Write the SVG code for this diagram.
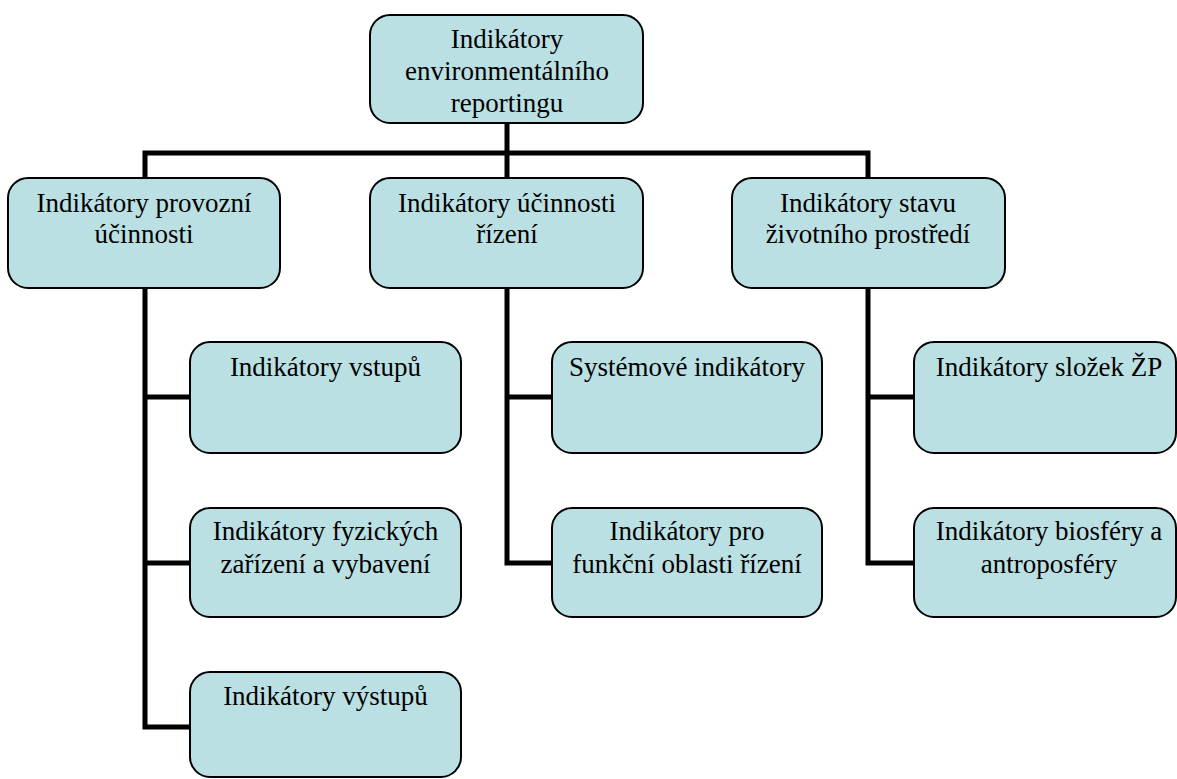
<svg xmlns="http://www.w3.org/2000/svg" width="1177" height="779" viewBox="0 0 1177 779">
<rect width="1177" height="779" fill="#fff"/>
<g id="connectors" fill="none" stroke="#000" stroke-width="5">
<path d="M507,123 V178"/>
<path d="M145,178 V153 H868 V178"/>
<path d="M145,288 V727 H190 M145,397 H190 M145,563 H190"/>
<path d="M507,288 V563 H552 M507,397 H552"/>
<path d="M868,288 V563 H914 M868,397 H914"/>
</g>
<g id="root">
<rect fill="#BBE0E3" stroke="#000" stroke-width="2" x="370" y="15" width="273" height="108" rx="20"/>
<text x="507" y="48" font-family="Liberation Serif" font-size="27" text-anchor="middle">Indikátory</text>
<text x="507" y="80" font-family="Liberation Serif" font-size="27" text-anchor="middle">environmentálního</text>
<text x="507" y="112" font-family="Liberation Serif" font-size="27" text-anchor="middle">reportingu</text>
</g>
<g id="provozni">
<rect fill="#BBE0E3" stroke="#000" stroke-width="2" x="8" y="178" width="272" height="110" rx="20"/>
<text x="144" y="212" font-family="Liberation Serif" font-size="27" text-anchor="middle">Indikátory provozní</text>
<text x="144" y="243" font-family="Liberation Serif" font-size="27" text-anchor="middle">účinnosti</text>
</g>
<g id="rizeni">
<rect fill="#BBE0E3" stroke="#000" stroke-width="2" x="370" y="178" width="273" height="110" rx="20"/>
<text x="507" y="212" font-family="Liberation Serif" font-size="27" text-anchor="middle">Indikátory účinnosti</text>
<text x="507" y="243" font-family="Liberation Serif" font-size="27" text-anchor="middle">řízení</text>
</g>
<g id="stav">
<rect fill="#BBE0E3" stroke="#000" stroke-width="2" x="732" y="178" width="273" height="110" rx="20"/>
<text x="868" y="212" font-family="Liberation Serif" font-size="27" text-anchor="middle">Indikátory stavu</text>
<text x="868" y="243" font-family="Liberation Serif" font-size="27" text-anchor="middle">životního prostředí</text>
</g>
<g id="vstupy">
<rect fill="#BBE0E3" stroke="#000" stroke-width="2" x="190" y="342" width="271" height="111" rx="20"/>
<text x="325.5" y="376" font-family="Liberation Serif" font-size="27" text-anchor="middle">Indikátory vstupů</text>
</g>
<g id="fyzicke">
<rect fill="#BBE0E3" stroke="#000" stroke-width="2" x="190" y="508" width="271" height="109" rx="20"/>
<text x="325.5" y="540" font-family="Liberation Serif" font-size="27" text-anchor="middle">Indikátory fyzických</text>
<text x="325.5" y="573" font-family="Liberation Serif" font-size="27" text-anchor="middle">zařízení a vybavení</text>
</g>
<g id="vystupy">
<rect fill="#BBE0E3" stroke="#000" stroke-width="2" x="190" y="672" width="271" height="105" rx="20"/>
<text x="325.5" y="705" font-family="Liberation Serif" font-size="27" text-anchor="middle">Indikátory výstupů</text>
</g>
<g id="systemove">
<rect fill="#BBE0E3" stroke="#000" stroke-width="2" x="552" y="342" width="270" height="111" rx="20"/>
<text x="687" y="376" font-family="Liberation Serif" font-size="27" text-anchor="middle">Systémové indikátory</text>
</g>
<g id="funkcni">
<rect fill="#BBE0E3" stroke="#000" stroke-width="2" x="552" y="508" width="270" height="109" rx="20"/>
<text x="687" y="540" font-family="Liberation Serif" font-size="27" text-anchor="middle">Indikátory pro</text>
<text x="687" y="573" font-family="Liberation Serif" font-size="27" text-anchor="middle">funkční oblasti řízení</text>
</g>
<g id="slozky">
<rect fill="#BBE0E3" stroke="#000" stroke-width="2" x="914" y="342" width="262" height="111" rx="20"/>
<text x="1049" y="376" font-family="Liberation Serif" font-size="27" text-anchor="middle">Indikátory složek ŽP</text>
</g>
<g id="biosfera">
<rect fill="#BBE0E3" stroke="#000" stroke-width="2" x="914" y="508" width="262" height="109" rx="20"/>
<text x="1049" y="540" font-family="Liberation Serif" font-size="27" text-anchor="middle">Indikátory biosféry a</text>
<text x="1049" y="573" font-family="Liberation Serif" font-size="27" text-anchor="middle">antroposféry</text>
</g>
</svg>
